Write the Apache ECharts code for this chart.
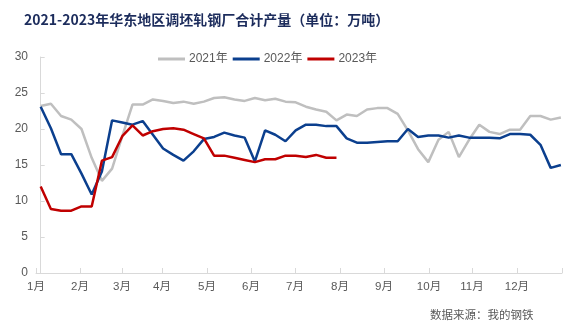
<!DOCTYPE html>
<html>
<head>
<meta charset="utf-8">
<script src="https://cdn.jsdelivr.net/npm/echarts@6/dist/echarts.min.js"></script>
<style>
html,body{margin:0;padding:0;background:#fff;}
#chart{width:580px;height:326px;}
</style>
</head>
<body>
<div id="chart"></div>
<script>
// Weekly values (万吨), week index 0..51
const data2021 = [23.2,23.5,21.8,21.3,20.0,16.0,12.8,14.5,19.0,23.4,23.4,24.1,23.9,23.6,23.8,23.5,23.8,24.3,24.4,24.1,23.9,24.3,24.0,24.2,23.8,23.7,23.1,22.7,22.4,21.2,22.0,21.8,22.7,22.9,22.9,22.1,19.8,17.2,15.4,18.5,19.6,16.1,18.5,20.6,19.6,19.3,19.9,19.9,21.8,21.8,21.3,21.6];
const data2022 = [23.1,20.1,16.5,16.5,13.8,10.9,14.1,21.2,20.9,20.6,21.1,19.2,17.3,16.4,15.6,16.9,18.6,18.9,19.5,19.1,18.8,15.5,19.8,19.2,18.3,19.8,20.6,20.6,20.4,20.4,18.7,18.1,18.1,18.2,18.3,18.3,20.0,18.9,19.1,19.1,18.8,19.1,18.8,18.8,18.8,18.7,19.3,19.3,19.2,17.8,14.6,15.0];
const data2023 = [12.0,8.9,8.65,8.65,9.25,9.25,15.6,16.1,19.0,20.5,19.1,19.7,20.0,20.1,19.9,19.3,18.7,16.3,16.3,16.0,15.7,15.4,15.8,15.8,16.3,16.3,16.1,16.4,16.0,16.0];
const seriesNames = ['2021年','2022年','2023年'];
const monthLabels = ['1月','2月','3月','4月','5月','6月','7月','8月','9月','10月','11月','12月'];
// month boundaries expressed in week-index units
const monthTickWeeks = [-0.46,3.85,7.97,11.89,16.30,20.62,24.93,29.34,33.66,38.07,42.28,46.69,51.11];
const yTicks = [0,5,10,15,20,25,30];

const toPairs = arr => arr.map((v,i)=>[i,v]);
const colors = ['#bfbfbf','#0b3f8e','#c00000'];

const chart = echarts.init(document.getElementById('chart'), null, {renderer:'canvas'});
chart.setOption({
  backgroundColor:'#ffffff',
  animation:false,
  title:[{
    text:'2021-2023年华东地区调坯轧钢厂合计产量（单位：万吨）',
    left:19, top:8,
    textStyle:{fontSize:14,fontWeight:'bold',color:'#1c2c5c',fontFamily:'"Noto Sans CJK SC", sans-serif'}
  },{
    text:'数据来源：我的钢铁',
    left:425, top:304,
    textStyle:{fontSize:11.5,fontWeight:'normal',color:'#595959',fontFamily:'"Noto Sans CJK SC", sans-serif'}
  }],
  legend:{
    data:seriesNames,
    left:153, top:48,
    icon:'rect', itemWidth:27, itemHeight:3, itemGap:5,
    textStyle:{fontSize:12,color:'#595959',fontFamily:'Arial, "Liberation Sans", "Noto Sans CJK SC", sans-serif',padding:[0,0,0,-1]}
  },
  grid:{left:36,right:18,top:57,bottom:53},
  xAxis:{
    type:'value',
    min:monthTickWeeks[0], max:monthTickWeeks[monthTickWeeks.length-1],
    axisLine:{show:true,lineStyle:{color:'#d9d9d9',width:1}},
    axisTick:{show:true,inside:true,length:5,lineStyle:{color:'#d9d9d9'},customValues:monthTickWeeks},
    axisLabel:{
      customValues:monthTickWeeks.slice(0,12),
      formatter:function(v){
        let best=0,d=1e9;
        monthTickWeeks.forEach((t,i)=>{if(Math.abs(t-v)<d){d=Math.abs(t-v);best=i;}});
        return monthLabels[best]||'';
      },
      color:'#595959',fontSize:11.5,margin:8,
      fontFamily:'Arial, "Liberation Sans", "Noto Sans CJK SC", sans-serif'
    },
    splitLine:{show:false}
  },
  yAxis:{
    type:'value',
    min:yTicks[0], max:yTicks[yTicks.length-1], interval:5,
    axisLine:{show:true,lineStyle:{color:'#d9d9d9',width:1}},
    axisTick:{show:true,inside:true,length:4,lineStyle:{color:'#d9d9d9'}},
    axisLabel:{color:'#595959',fontSize:12,margin:8,fontFamily:'Arial, "Liberation Sans", sans-serif'},
    splitLine:{show:false}
  },
  series:[
    {name:seriesNames[0],type:'line',data:toPairs(data2021),symbol:'none',lineStyle:{color:colors[0],width:2.5},itemStyle:{color:colors[0]},z:2},
    {name:seriesNames[1],type:'line',data:toPairs(data2022),symbol:'none',lineStyle:{color:colors[1],width:2.5},itemStyle:{color:colors[1]},z:3},
    {name:seriesNames[2],type:'line',data:toPairs(data2023),symbol:'none',lineStyle:{color:colors[2],width:2.5},itemStyle:{color:colors[2]},z:4}
  ]
});
</script>
</body>
</html>
